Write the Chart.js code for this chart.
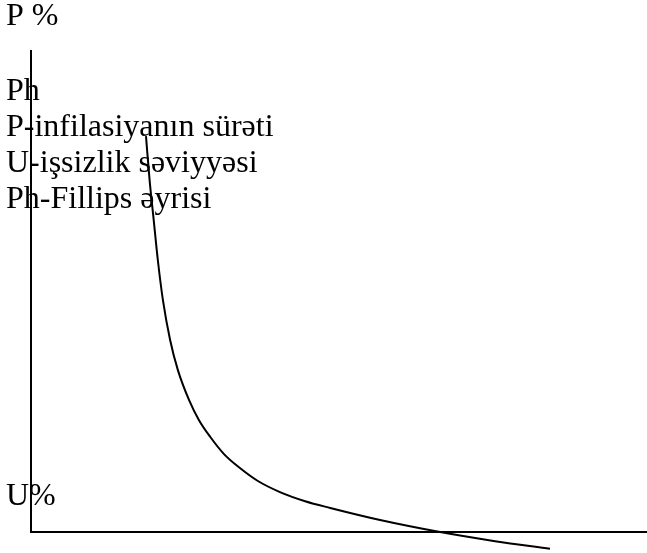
<!DOCTYPE html>
<html>
<head>
<meta charset="utf-8">
<script src="https://cdn.jsdelivr.net/npm/chart.js@4.4.1/dist/chart.umd.min.js"></script>
<style>
  html, body { margin: 0; padding: 0; background: #fff; }
  canvas { display: block; }
</style>
</head>
<body>
<canvas id="phillips" width="647" height="553"></canvas>
<script>
// Fillips əyrisi: U% (x) vs P% (y)
const unemployment = [2.24, 2.31, 2.39, 2.47, 2.57, 2.71, 2.86, 3.08, 3.27, 3.49, 3.76, 4.07, 4.42, 4.85, 5.34, 5.83, 6.80, 7.97, 9.04, 10.11];
const inflation    = [8.23, 7.32, 6.49, 5.66, 4.82, 3.99, 3.37, 2.74, 2.33, 1.98, 1.62, 1.33, 1.06, 0.83, 0.64, 0.50, 0.25, 0.00, -0.19, -0.35];

const yAxisTitle = 'P %';
const xAxisTitle = 'U%';
const legendLines = [
    'Ph',
    'P-infilasiyanın sürəti',
    'U-işsizlik səviyyəsi',
    'Ph-Fillips əyrisi'
];

const points = unemployment.map((u, i) => ({ x: u, y: inflation[i] }));

// yazılar
const textPlugin = {
    id: 'texts',
    afterDraw(chart) {
        const c = chart.ctx;
        c.save();
        c.fillStyle = '#000';
        c.font = '32px "Liberation Serif", "Times New Roman", serif';
        c.textBaseline = 'alphabetic';
        c.textAlign = 'left';
        c.fillText(yAxisTitle, 6, 25);
        legendLines.forEach((t, i) => c.fillText(t, 6, 100 + i * 36));
        c.fillText(xAxisTitle, 6, 505);
        c.restore();
    }
};

const ctx = document.getElementById('phillips').getContext('2d');
new Chart(ctx, {
    type: 'scatter',
    data: {
        datasets: [{
            data: points,
            showLine: true,
            borderColor: '#000',
            borderWidth: 2,
            pointRadius: 0,
            fill: false,
            cubicInterpolationMode: 'monotone',
            clip: false
        }]
    },
    options: {
        responsive: false,
        animation: false,
        layout: { padding: { left: 31, top: 51, right: 0, bottom: 21 } },
        plugins: { legend: { display: false }, tooltip: { enabled: false } },
        scales: {
            x: {
                type: 'linear', min: 0, max: 12,
                grid: { display: false },
                ticks: { display: false },
                border: { display: true, color: '#000', width: 2 },
                afterFit(s) { s.height = 0; }
            },
            y: {
                type: 'linear', min: 0, max: 10,
                grid: { display: false },
                ticks: { display: false },
                border: { display: true, color: '#000', width: 2 },
                afterFit(s) { s.width = 0; }
            }
        }
    },
    plugins: [textPlugin]
});
</script>
</body>
</html>
